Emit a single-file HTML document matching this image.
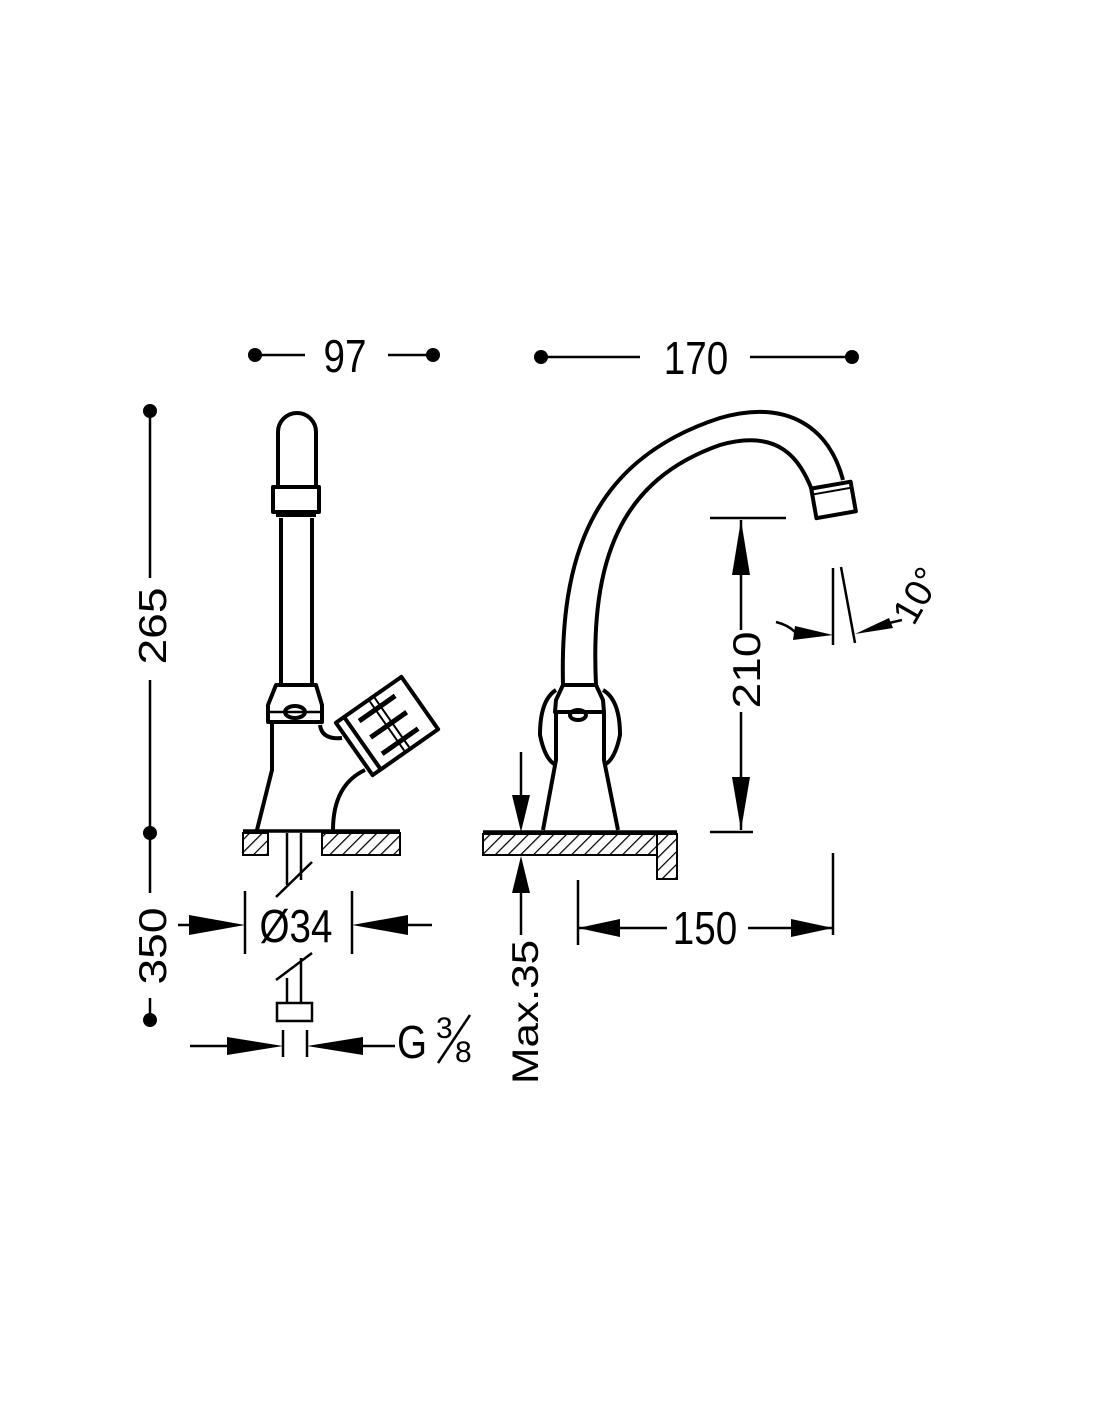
<!DOCTYPE html>
<html><head><meta charset="utf-8"><style>
html,body{margin:0;padding:0;background:#fff}
svg{display:block}
text{font-family:"Liberation Sans",sans-serif;fill:#000}
</style></head><body>
<svg width="1100" height="1422" viewBox="0 0 1100 1422" xmlns="http://www.w3.org/2000/svg">
<defs>
<pattern id="h" patternUnits="userSpaceOnUse" width="9" height="9" patternTransform="rotate(45)">
<line x1="0" y1="0" x2="0" y2="9" stroke="#000" stroke-width="2.5"/>
</pattern>
</defs>
<g stroke="#000" stroke-width="2.5" fill="none">
<line x1="255" y1="355" x2="305" y2="355"/><line x1="388" y1="355" x2="433" y2="355"/>
<line x1="541" y1="357" x2="640" y2="357"/><line x1="750" y1="357" x2="852" y2="357"/>
<line x1="150" y1="411" x2="150" y2="578"/><line x1="150" y1="680" x2="150" y2="893"/>
<line x1="150" y1="998" x2="150" y2="1020"/>
</g>
<g fill="#000">
<circle cx="255" cy="355" r="7"/><circle cx="433" cy="355" r="7"/>
<circle cx="541" cy="357" r="7"/><circle cx="852" cy="357" r="7"/>
<circle cx="150" cy="411" r="7"/><circle cx="150" cy="833" r="7"/><circle cx="150" cy="1020" r="7"/>
</g>
<g transform="scale(0.92,1.1)">
<text x="375" y="338" font-size="42" text-anchor="middle">97</text>
<text x="756.5" y="340" font-size="42" text-anchor="middle">170</text>
</g>
<text transform="translate(166,626) rotate(-90) scale(1.1,0.92)" font-size="42" text-anchor="middle">265</text>
<text transform="translate(166,946) rotate(-90) scale(1.1,0.92)" font-size="42" text-anchor="middle">350</text>

<!-- left faucet -->
<g stroke="#000" stroke-width="4" fill="none" stroke-linejoin="round">
<path d="M278 487 L278 432 A19 19 0 0 1 316 432 L316 487"/>
<rect x="273" y="487" width="46" height="25"/>
<line x1="276" y1="515" x2="316" y2="515"/>
<line x1="281" y1="518" x2="281" y2="685"/><line x1="312" y1="518" x2="312" y2="685"/>
<path d="M276 685 L316 685 L322 705 L322 722 L268 722 L268 705 Z"/>
<ellipse cx="295" cy="712" rx="10" ry="6"/>
<line x1="268" y1="712" x2="322" y2="712" stroke-width="2.5"/>
<path d="M272 724 L272 770 L257 830"/>
<path d="M320 725 Q322 740 342 738"/>
<path d="M365 770 Q333 785 333 830"/>
<g transform="translate(387,726) rotate(-35)">
<rect x="-40" y="-32" width="80" height="64"/>
<line x1="-30" y1="-32" x2="-30" y2="32"/>
<line x1="-20" y1="-20" x2="24" y2="-20" stroke-width="5"/>
<line x1="-20" y1="0" x2="24" y2="0" stroke-width="5"/>
<line x1="-20" y1="20" x2="24" y2="20" stroke-width="5"/>
<line x1="0" y1="-30" x2="0" y2="30" stroke-width="2"/>
<line x1="6" y1="-30" x2="6" y2="30" stroke-width="2"/>
</g>
</g>
<line x1="243" y1="831" x2="400" y2="831" stroke="#000" stroke-width="3.5"/>
<rect x="243" y="833" width="25" height="22" fill="url(#h)" stroke="#000" stroke-width="2"/>
<rect x="322" y="833" width="78" height="22" fill="url(#h)" stroke="#000" stroke-width="2"/>
<g stroke="#000" stroke-width="2.5" fill="none">
<line x1="287" y1="833" x2="287" y2="885"/><line x1="301" y1="833" x2="301" y2="880"/>
<line x1="276" y1="897" x2="312" y2="862"/>
<line x1="245" y1="891" x2="245" y2="954"/><line x1="352" y1="891" x2="352" y2="954"/>
<line x1="178" y1="925" x2="200" y2="925"/><line x1="406" y1="925" x2="432" y2="925"/>
<line x1="276" y1="980" x2="312" y2="953"/>
<line x1="287" y1="978" x2="287" y2="1003"/><line x1="301" y1="958" x2="301" y2="1003"/>
<rect x="277" y="1003" width="35" height="18"/>
<line x1="283" y1="1030" x2="283" y2="1057"/><line x1="307" y1="1030" x2="307" y2="1057"/>
<line x1="190" y1="1046" x2="230" y2="1046"/><line x1="360" y1="1046" x2="395" y2="1046"/>
</g>
<g fill="#000">
<polygon points="189,915 245,925 189,935"/><polygon points="408,915 352,925 408,935"/>
<polygon points="227,1037 283,1046 227,1055"/><polygon points="363,1037 307,1046 363,1055"/>
</g>
<text transform="translate(296,942) scale(0.92,1.1)" font-size="42" text-anchor="middle">Ø34</text>
<text transform="translate(397,1058) scale(0.92,1.1)" font-size="42">G</text>
<text x="436" y="1038" font-size="30">3</text>
<line x1="438" y1="1063" x2="470" y2="1015" stroke="#000" stroke-width="2.5"/>
<text x="455" y="1062" font-size="30">8</text>

<!-- right faucet -->
<g stroke="#000" stroke-width="4" fill="none" stroke-linejoin="round">
<path d="M563 685 C560 560 590 460 720 418 C790 398 830 430 843 480"/>
<path d="M596 685 C590 560 620 480 720 445 C780 428 800 460 812 490"/>
<g transform="translate(833,497) rotate(-10)">
<rect x="-20" y="-12" width="40" height="30"/>
<line x1="-20" y1="-6" x2="20" y2="-6" stroke-width="2"/>
</g>
<path d="M563 685 L596 685 L603 700 L604 712 L555 712 L556 700 Z"/>
<path d="M556 690 Q540 700 540 735 Q545 760 556 765"/>
<path d="M603 690 Q620 700 620 735 Q615 760 604 765"/>
<path d="M556 712 L556 760 L543 830"/>
<path d="M604 712 L604 760 L618 830"/>
<ellipse cx="578" cy="715" rx="8" ry="5"/>
</g>
<line x1="483" y1="832" x2="677" y2="832" stroke="#000" stroke-width="3.5"/>
<rect x="483" y="834" width="174" height="21" fill="url(#h)" stroke="#000" stroke-width="2"/>
<rect x="657" y="834" width="20" height="45" fill="url(#h)" stroke="#000" stroke-width="2"/>
<g stroke="#000" stroke-width="2.5" fill="none">
<line x1="710" y1="518" x2="786" y2="518"/>
<line x1="741" y1="520" x2="741" y2="630"/><line x1="741" y1="712" x2="741" y2="830"/>
<line x1="710" y1="832" x2="753" y2="832"/>
<line x1="521" y1="752" x2="521" y2="800"/><line x1="521" y1="880" x2="521" y2="935"/>
<line x1="578" y1="880" x2="578" y2="945"/><line x1="833" y1="853" x2="833" y2="935"/>
<line x1="578" y1="928" x2="667" y2="928"/><line x1="748" y1="928" x2="833" y2="928"/>
<line x1="833" y1="568" x2="833" y2="645"/><line x1="841" y1="567" x2="855" y2="643"/>
<path d="M776 622 Q788 625 795 632"/>
</g>
<g fill="#000">
<polygon points="732,575 741,520 750,575"/><polygon points="732,777 741,830 750,777"/>
<polygon points="512,795 521,832 530,795"/><polygon points="512,893 521,856 530,893"/>
<polygon points="620,919 578,928 620,937"/><polygon points="791,919 833,928 791,937"/>
<polygon points="795,626 833,635 793,640"/><polygon points="855,634 889,618 893,628"/>
</g>
<line x1="889" y1="623" x2="902" y2="620" stroke="#000" stroke-width="2.5"/>
<text transform="translate(760,670) rotate(-90) scale(1.1,0.92)" font-size="42" text-anchor="middle">210</text>
<text transform="translate(538,1012) rotate(-90) scale(1.1,0.92)" font-size="40" text-anchor="middle">Max.35</text>
<text transform="translate(705,944) scale(0.92,1.1)" font-size="42" text-anchor="middle">150</text>
<text transform="translate(928,602) rotate(-60)" font-size="38" text-anchor="middle">10°</text>
</svg>
</body></html>
